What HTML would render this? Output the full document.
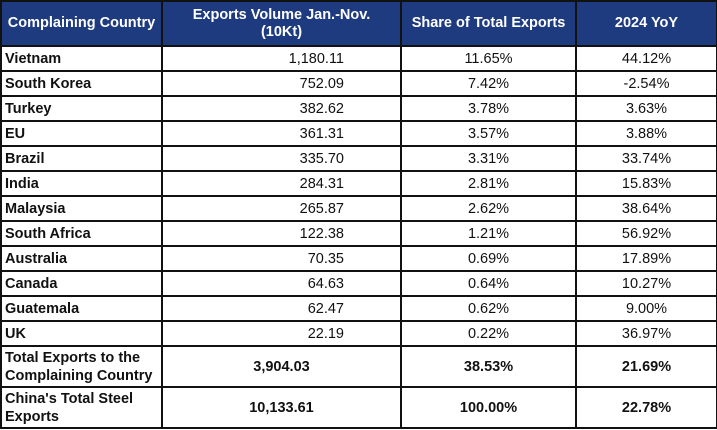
<!DOCTYPE html>
<html><head><meta charset="utf-8"><style>
body{margin:0;width:717px;height:430px;background:#fff;font-family:"Liberation Sans",Arial,sans-serif;overflow:hidden}
table{position:absolute;left:0;top:0;width:716px;border-collapse:collapse;table-layout:fixed}
td,th{border:2px solid #111;font-size:14.5px;padding:0 4px;color:#111;white-space:nowrap}
th{background:#1f3b80;color:#fff;font-weight:bold;height:43px;line-height:17px;border-color:#111}
td{height:23px;text-align:center;line-height:16px}
td:first-child{text-align:left;font-weight:bold;padding-left:3px}
td:nth-child(2){text-align:right;padding-right:56px}
tr.tot td{height:39px;font-weight:bold;white-space:normal;line-height:18px;padding-top:0;padding-bottom:0}
tr.tot td:nth-child(2){text-align:center;padding-right:4px}
</style></head><body>
<table>
<colgroup><col style="width:161px"><col style="width:239px"><col style="width:175px"><col style="width:141px"></colgroup>
<tr>
<th>Complaining Country</th>
<th>Exports Volume Jan.-Nov.<br>(10Kt)</th>
<th>Share of Total Exports</th>
<th>2024 YoY</th></tr>
<tr><td>Vietnam</td><td>1,180.11</td><td>11.65%</td><td>44.12%</td></tr>
<tr><td>South Korea</td><td>752.09</td><td>7.42%</td><td>-2.54%</td></tr>
<tr><td>Turkey</td><td>382.62</td><td>3.78%</td><td>3.63%</td></tr>
<tr><td>EU</td><td>361.31</td><td>3.57%</td><td>3.88%</td></tr>
<tr><td>Brazil</td><td>335.70</td><td>3.31%</td><td>33.74%</td></tr>
<tr><td>India</td><td>284.31</td><td>2.81%</td><td>15.83%</td></tr>
<tr><td>Malaysia</td><td>265.87</td><td>2.62%</td><td>38.64%</td></tr>
<tr><td>South Africa</td><td>122.38</td><td>1.21%</td><td>56.92%</td></tr>
<tr><td>Australia</td><td>70.35</td><td>0.69%</td><td>17.89%</td></tr>
<tr><td>Canada</td><td>64.63</td><td>0.64%</td><td>10.27%</td></tr>
<tr><td>Guatemala</td><td>62.47</td><td>0.62%</td><td>9.00%</td></tr>
<tr><td>UK</td><td>22.19</td><td>0.22%</td><td>36.97%</td></tr>
<tr class="tot"><td>Total Exports to the Complaining Country</td><td>3,904.03</td><td>38.53%</td><td>21.69%</td></tr>
<tr class="tot"><td>China's Total Steel Exports</td><td>10,133.61</td><td>100.00%</td><td>22.78%</td></tr>
</table>
</body></html>
